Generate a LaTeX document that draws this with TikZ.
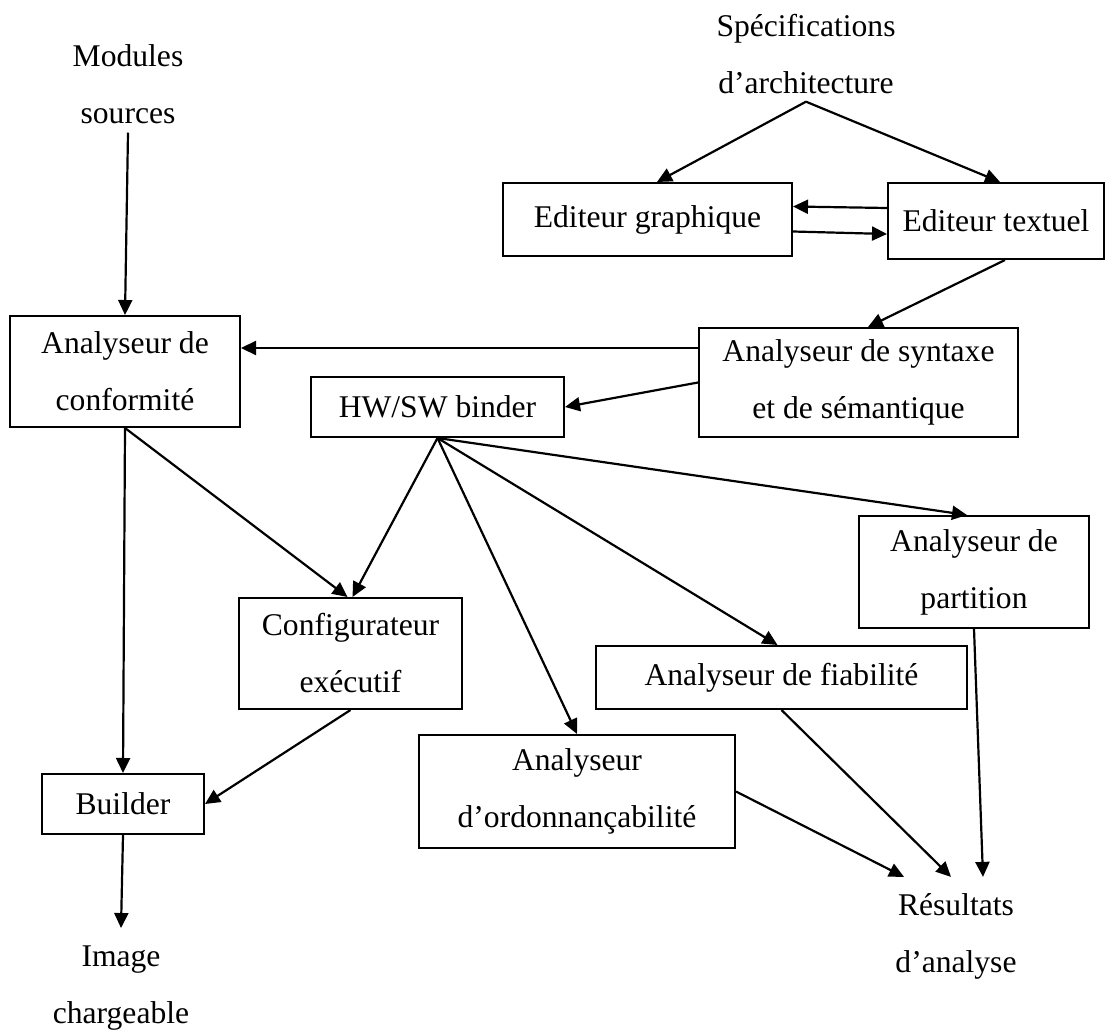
\documentclass[tikz,border=0pt]{standalone}
\usepackage{fontspec}
\setmainfont{Liberation Serif}
\usetikzlibrary{arrows.meta}
\begin{document}
\begin{tikzpicture}[x=1pt,y=-1pt,
  every node/.style={font=\fontsize{31.6}{57}\selectfont, align=center, inner sep=0pt},
  box/.style={draw, line width=2pt},
  txt/.style={inner xsep=0pt},
  arr/.style={line width=2.2pt, -{Triangle[length=15pt,width=14pt]}}]
% page frame
\fill[white] (0,0) rectangle (1118,1032);
\useasboundingbox (0,0) rectangle (1118,1032);

% free text labels (inputs and outputs)
\node[txt, inner ysep=9pt] (modules) at (128,83.7) {Modules\\sources};
\node[txt, inner ysep=8pt] (spec) at (806,53.7) {Spécifications\\d’architecture};
\node[txt, inner ysep=18pt] (image) at (121,988.5) {Image\\chargeable};
\node[txt, inner ysep=16pt] (results) at (956,936) {Résultats\\d’analyse};

% tool boxes
\node[box, minimum width=289pt, minimum height=73pt] (graph) at (647.5,219.5) {Editeur graphique};
\node[box, minimum width=216pt, minimum height=76pt] (text) at (996,221) {Editeur textuel};
\node[box, minimum width=230pt, minimum height=111pt] (conf) at (125,371.5) {Analyseur de\\conformité};
\node[box, minimum width=319pt, minimum height=109pt] (syntax) at (858.5,382.5) {Analyseur de syntaxe\\et de sémantique};
\node[box, minimum width=253pt, minimum height=60pt] (binder) at (437.5,407) {HW/SW binder};
\node[box, minimum width=230pt, minimum height=112pt] (partition) at (974,572) {Analyseur de\\partition};
\node[box, minimum width=223pt, minimum height=111pt] (config) at (350.5,653.5) {Configurateur\\exécutif};
\node[box, minimum width=371pt, minimum height=63pt] (fiab) at (781.5,677.5) {Analyseur de fiabilité};
\node[box, minimum width=316pt, minimum height=113pt] (ordon) at (577,791.5) {Analyseur\\d’ordonnançabilité};
\node[box, minimum width=162pt, minimum height=60pt] (builder) at (123,804) {Builder};

% connectors
\draw[arr] (modules.south) -- (conf.north);
\draw[arr] (spec.south) -- ([xshift=9.5pt]graph.north);
\draw[arr] (spec.south) -- ([xshift=4pt]text.north);
\draw[arr] ([yshift=13pt]text.west) -- ([yshift=13pt]graph.east);
\draw[arr] ([yshift=-12pt]graph.east) -- ([yshift=-13pt]text.west);
\draw[arr] ([xshift=9pt]text.south) -- ([xshift=9.5pt]syntax.north);
\draw[arr] ([yshift=34.5pt]syntax.west) -- ([yshift=23.5pt]conf.east);
\draw[arr] (syntax.west) -- (binder.east);
\draw[arr] (binder.south) -- ([xshift=2pt]config.north);
\draw[arr] (binder.south) -- (ordon.north);
\draw[arr] (binder.south) -- ([xshift=-4pt]fiab.north);
\draw[arr] (binder.south) -- ([xshift=-7pt]partition.north);
\draw[arr] (conf.south) -- ([xshift=-3pt]config.north);
\draw[arr] (conf.south) -- (builder.north);
\draw[arr] (config.south) -- (builder.east);
\draw[arr] (builder.south) -- (image.north);
\draw[arr] (ordon.east) -- ([xshift=-52pt]results.north);
\draw[arr] (fiab.south) -- ([xshift=-5pt]results.north);
\draw[arr] (partition.south) -- ([xshift=27pt]results.north);
\end{tikzpicture}
\end{document}
